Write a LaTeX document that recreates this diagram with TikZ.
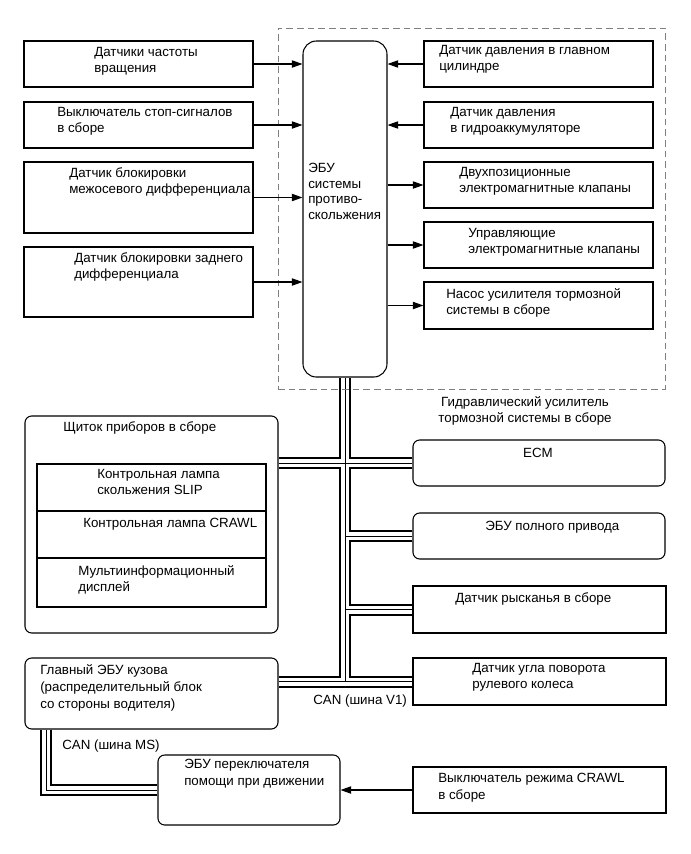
\documentclass[tikz,border=0pt]{standalone}
\usepackage{fontspec}
\setmainfont{Liberation Sans}
\usetikzlibrary{arrows.meta,fit,backgrounds}
\definecolor{rahmen}{RGB}{128,128,128}

\tikzset{
  box/.style={draw,line width=0.8pt,inner sep=0pt,fill=white},
  rbox/.style={box,rounded corners=5pt},
  ecubox/.style={box,rounded corners=10pt},
  hbubox/.style={draw=rahmen,line width=0.7pt,dash pattern=on 5pt off 3pt,inner sep=0pt},
  txt/.style={anchor=north west,inner sep=0pt,yshift=-2pt,align=left,font=\fontsize{10}{12.2}\selectfont,execute at begin node=\strut},
  sig/.style={-{Triangle[length=8pt,width=5.5pt]},line width=0.8pt},
  buswall/.style={line width=9pt,line join=miter},
  busgap/.style={line width=6pt,white,line join=miter},
  buswire/.style={line width=0.6pt,line join=miter}
}

\begin{document}
\begin{tikzpicture}[x=0.75pt,y=-0.75pt]
  \useasboundingbox (0,0) rectangle (691,854);
  % hydraulic brake booster frame
  \node[hbubox,fit={(278,28) (665,389)}] (hbu) {};
  \node[ecubox,fit={(303,41) (387,377)}] (ecu) {};
  % inputs left
  \node[box,fit={(24,41) (253,87)}] (spd) {};
  \node[box,fit={(24,102) (253,148)}] (stop) {};
  \node[box,fit={(24,162) (253,233)}] (cdl) {};
  \node[box,fit={(24,247) (253,317)}] (rdl) {};
  % sensors and actuators right
  \node[box,fit={(424,41) (653,87)}] (mcp) {};
  \node[box,fit={(424,102) (653,148)}] (acc) {};
  \node[box,fit={(424,162) (653,208)}] (sol2) {};
  \node[box,fit={(424,222) (653,268)}] (solc) {};
  \node[box,fit={(424,282) (653,329)}] (pump) {};
  % CAN members
  \node[rbox,fit={(25,416) (278,633)}] (meter) {};
  \node[box,fit={(37,464) (266,511)}] (slip) {};
  \node[box,fit={(37,511) (266,558)}] (crawl) {};
  \node[box,fit={(37,558) (266,607)}] (mid) {};
  \node[rbox,fit={(413,440) (665,486)}] (ecm) {};
  \node[rbox,fit={(413,513) (665,559)}] (awd) {};
  \node[box,fit={(413,586) (666,633)}] (yaw) {};
  \node[box,fit={(413,658) (666,705)}] (steer) {};
  \node[rbox,fit={(25,658) (278,729)}] (body) {};
  \node[rbox,fit={(158,755) (340,825)}] (asst) {};
  \node[box,fit={(413,767) (666,813)}] (crawlsw) {};

  \node[txt] (spdT) at (94,44.5) {Датчики частоты\\вращения};
  \node[txt] (stopT) at (57,104.5) {Выключатель стоп-сигналов\\в сборе};
  \node[txt] (cdlT) at (69,164.5) {Датчик блокировки\\межосевого дифференциала};
  \node[txt] (rdlT) at (74,249.5) {Датчик блокировки заднего\\дифференциала};
  \node[txt,font=\fontsize{10}{11.6}\selectfont] (ecuT) at (308,160.5) {ЭБУ\\системы\\противо-\\скольжения};
  \node[txt] (mcpT) at (439,42.5) {Датчик давления в главном\\цилиндре};
  \node[txt] (accT) at (450,104.5) {Датчик давления\\в гидроаккумуляторе};
  \node[txt] (sol2T) at (459,164.5) {Двухпозиционные\\электромагнитные клапаны};
  \node[txt] (solcT) at (468,225.5) {Управляющие\\электромагнитные клапаны};
  \node[txt] (pumpT) at (446,285.5) {Насос усилителя тормозной\\системы в сборе};
  \node[txt,anchor=north,align=center] (hbuT) at (525,393.5) {Гидравлический усилитель\\тормозной системы в сборе};
  \node[txt] (meterT) at (63,417.5) {Щиток приборов в сборе};
  \node[txt] (slipT) at (97,466.5) {Контрольная лампа\\скольжения SLIP};
  \node[txt] (crawlT) at (83,513.5) {Контрольная лампа CRAWL};
  \node[txt] (midT) at (78,562.5) {Мультиинформационный\\дисплей};
  \node[txt,anchor=north] (ecmT) at (538,443.5) {ECM};
  \node[txt] (awdT) at (485,516.5) {ЭБУ полного привода};
  \node[txt] (yawT) at (455,588.5) {Датчик рысканья в сборе};
  \node[txt] (steerT) at (472,660.5) {Датчик угла поворота\\рулевого колеса};
  \node[txt,font=\fontsize{10}{12.7}\selectfont] (bodyT) at (40,661.5) {Главный ЭБУ кузова\\(распределительный блок\\со стороны водителя)};
  \node[txt] (vT) at (313,690.5) {CAN (шина V1)};
  \node[txt] (msT) at (62,735.5) {CAN (шина MS)};
  \node[txt] (asstT) at (184,756.5) {ЭБУ переключателя\\помощи при движении};
  \node[txt] (crawlswT) at (438,770.5) {Выключатель режима CRAWL\\в сборе};

  % signal lines
  \foreach \n in {spd,stop,cdl,rdl}
    \draw[sig] (\n.east) -- (\n.east -| ecu.west);
  \foreach \n in {mcp,acc}
    \draw[sig] (\n.west) -- (\n.west -| ecu.east);
  \foreach \n in {sol2,solc,pump}
    \draw[sig] (\n.west -| ecu.east) -- (\n.west);
  \draw[sig] (crawlsw.west) -- (crawlsw.west -| asst.east);

  % CAN buses
  \begin{scope}[on background layer]
    \foreach \s in {buswall,busgap,buswire}{
      \draw[\s] (ecu.south) -- (ecu.south |- steer.west);
      \draw[\s] (meter.east |- ecm.west) -- (ecm.west);
      \draw[\s] (ecu.south |- awd.west) -- (awd.west);
      \draw[\s] (ecu.south |- yaw.west) -- (yaw.west);
      \draw[\s] (body.east |- steer.west) -- (steer.west);
      \draw[\s] ([xshift=16.5pt]body.south west) |- (asst.west);
    }
  \end{scope}
\end{tikzpicture}
\end{document}
